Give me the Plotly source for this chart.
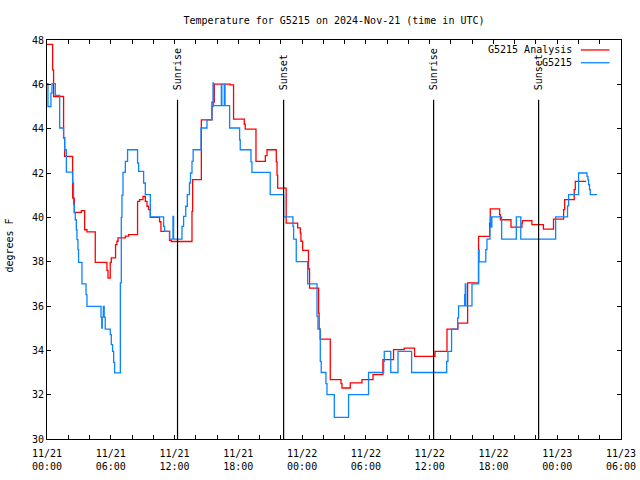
import pandas as pd
import plotly.graph_objects as go

# ---------------- data ----------------
base_time = "2024-11-21 00:00"

analysis_hours = [0.00, 0.53, 0.62, 1.56, 1.66, 2.41, 2.57, 3.23, 3.54, 3.76, 4.54, 5.64, 5.74, 5.95, 6.05,
                  6.45, 6.58, 6.68, 7.37, 7.68, 8.52, 8.71, 9.03, 9.25, 9.41, 9.56, 9.72, 10.59, 10.72, 11.53,
                  11.70, 13.64, 13.70, 14.52, 15.52, 15.74, 17.24, 17.55, 18.56, 18.65, 19.66, 20.54, 20.70,
                  21.57, 21.64, 21.70, 22.50, 23.58, 23.83, 23.89, 24.05, 24.60, 24.70, 25.55, 25.60, 25.70,
                  26.65, 27.66, 27.75, 28.53, 29.63, 30.67, 31.60, 32.60, 33.60, 34.58, 36.50, 37.63, 38.66,
                  39.57, 40.60, 41.64, 41.70, 42.58, 42.65, 43.65, 44.68, 44.72, 45.62, 46.70, 47.65, 48.60,
                  48.70, 49.60, 49.70, 50.73]
analysis_temps = [47.8, 46.65, 45.45, 43.6, 42.75, 40.87, 40.22, 40.3, 39.44, 39.34, 37.97, 37.61, 37.26, 37.97,
                  38.17, 38.77, 38.92, 39.07, 39.15, 39.22, 40.72, 40.8, 40.94, 40.72, 40.5, 40.35, 40.0, 39.8,
                  39.37, 38.96, 38.91, 40.27, 41.7, 44.4, 45.2, 46.01, 45.98, 44.43, 44.2, 43.98, 42.52, 42.78,
                  43.05, 42.5, 41.9, 41.32, 39.74, 39.52, 39.29, 38.92, 38.51, 37.67, 36.81, 35.68, 34.96, 34.51,
                  32.68, 32.5, 32.3, 32.53, 32.68, 32.9, 33.58, 34.03, 34.1, 33.73, 33.95, 34.96, 35.23, 37.04,
                  39.14, 39.74, 40.38, 40.12, 39.89, 39.56, 39.74, 39.85, 39.67, 39.47, 39.92, 40.35, 40.8,
                  41.25, 41.62, 41.62]

obs_hours = [0.00, 0.09, 0.37, 0.47, 0.78, 1.19, 1.56, 1.66, 1.82, 2.41, 2.50, 2.57, 2.66, 2.76, 2.82, 2.91,
             2.97, 3.29, 3.67, 3.76, 5.08, 5.15, 5.20, 5.30, 5.38, 5.48, 5.95, 6.05, 6.17, 6.27, 6.36, 6.90,
             6.99, 7.05, 7.15, 7.37, 7.58, 8.52, 8.62, 9.09, 9.25, 9.72, 10.97, 11.06, 11.53, 11.85, 11.91,
             12.70, 12.85, 13.05, 13.20, 13.40, 13.50, 13.64, 13.75, 14.49, 15.05, 15.52, 15.62, 15.67, 16.40,
             16.45, 16.68, 16.75, 17.18, 18.12, 18.18, 19.19, 19.28, 21.00, 22.26, 23.14, 23.20, 23.45, 24.52,
             25.40, 25.49, 25.71, 25.80, 26.24, 26.34, 27.03, 28.37, 30.25, 31.67, 31.73, 32.34, 33.02, 34.30,
             37.60, 37.72, 38.06, 38.63, 38.72, 39.29, 39.35, 39.40, 39.98, 40.60, 40.65, 41.28, 41.39, 41.67,
             41.72, 41.78, 41.85, 42.77, 44.15, 44.57, 47.85, 48.97, 49.07, 50.01, 50.80, 50.89, 50.95, 51.04,
             51.11, 51.74]
obs_temps = [46.03, 45.0, 45.6, 46.03, 45.5, 44.03, 43.58, 43.05, 42.04, 41.55, 40.57, 40.2, 39.89, 39.44,
             38.99, 38.54, 37.97, 37.0, 36.51, 35.98, 35.5, 35.0, 35.5, 35.98, 35.5, 34.96, 34.71, 34.26, 33.95,
             33.46, 32.98, 37.04, 40.0, 41.0, 42.03, 42.52, 43.05, 42.45, 42.07, 41.55, 41.02, 40.02, 39.59,
             39.37, 39.02, 40.04, 39.02, 39.59, 40.04, 40.5, 41.02, 41.55, 42.0, 42.52, 43.05, 44.03, 44.4,
             45.0, 46.06, 45.04, 46.0, 45.04, 46.0, 45.04, 44.03, 43.5, 43.05, 42.5, 42.03, 41.02, 40.02, 39.59,
             39.02, 38.0, 37.0, 35.53, 34.96, 33.5, 33.0, 32.5, 32.0, 30.98, 32.0, 33.0, 33.5, 33.95, 33.0,
             33.95, 33.0, 33.5, 33.95, 34.96, 35.46, 36.01, 36.51, 37.0, 36.01, 37.0, 38.54, 37.99, 38.54,
             39.02, 39.56, 40.02, 39.56, 40.02, 39.02, 40.02, 39.02, 40.02, 40.52, 41.02, 42.0, 41.85, 41.7,
             41.47, 41.25, 41.02, 41.02]

event_hours = [12.28, 22.26, 36.37, 46.25]
event_labels = ["Sunrise", "Sunset", "Sunrise", "Sunset"]

tick_hours = [0, 6, 12, 18, 24, 30, 36, 42, 48, 54]
tick_labels = ["11/21<br>00:00", "11/21<br>06:00", "11/21<br>12:00", "11/21<br>18:00",
               "11/22<br>00:00", "11/22<br>06:00", "11/22<br>12:00", "11/22<br>18:00",
               "11/23<br>00:00", "11/23<br>06:00"]
y_ticks = [30, 32, 34, 36, 38, 40, 42, 44, 46, 48]

series_names = ["G5215 Analysis", "G5215"]
series_colors = ["#ff0000", "#0a84ff"]

assert len(analysis_hours) == len(analysis_temps)
assert len(obs_hours) == len(obs_temps)

# ---------------- figure ----------------
t0 = pd.Timestamp(base_time)
def to_time(hours):
    return [t0 + pd.Timedelta(hours=h) for h in hours]

FONT = "DejaVu Sans Mono"
W, H = 640, 480
fig = go.Figure()
fig.add_trace(go.Scatter(x=to_time(analysis_hours), y=analysis_temps, mode="lines",
                         line=dict(color=series_colors[0], width=1.3, shape="hv"),
                         name=series_names[0]))
fig.add_trace(go.Scatter(x=to_time(obs_hours), y=obs_temps, mode="lines",
                         line=dict(color=series_colors[1], width=1.3, shape="hv"),
                         name=series_names[1]))

for h, lab in zip(event_hours, event_labels):
    tx = t0 + pd.Timedelta(hours=h)
    fig.add_shape(type="line", xref="x", yref="paper", x0=tx, x1=tx, y0=0, y1=0.85,
                  line=dict(color="black", width=1.2))
    fig.add_annotation(x=tx, xref="x", y=0.868, yref="paper", text=lab, textangle=-90,
                       showarrow=False, xanchor="center", yanchor="bottom",
                       font=dict(family=FONT, size=10, color="black"))

# legend drawn gnuplot style: text right-aligned, sample to its right
leg_y = [0.975, 0.943]
for name, col, yy in zip(series_names, series_colors, leg_y):
    fig.add_annotation(x=0.918, xref="paper", y=yy, yref="paper", text=name, showarrow=False,
                       xanchor="right", yanchor="middle",
                       font=dict(family=FONT, size=10, color="black"))
    fig.add_shape(type="line", xref="paper", yref="paper", x0=0.930, x1=0.980, y0=yy, y1=yy,
                  line=dict(color=col, width=1.3))

fig.add_annotation(x=-0.066, xref="paper", y=0.485, yref="paper", text="degrees F", textangle=-90,
                   showarrow=False, xanchor="center", yanchor="middle",
                   font=dict(family=FONT, size=10, color="black"))

fig.update_layout(
    width=W, height=H,
    margin=dict(l=47, r=19, t=40, b=41, autoexpand=False),
    paper_bgcolor="white", plot_bgcolor="white",
    showlegend=False,
    font=dict(family=FONT, size=10, color="black"),
    title=dict(text="Temperature for G5215 on 2024-Nov-21 (time in UTC)", x=0.5, xref="paper",
               y=1 - 20 / H, yref="container", xanchor="center", yanchor="middle",
               font=dict(family=FONT, size=10, color="black")),
    xaxis=dict(range=[t0, t0 + pd.Timedelta(hours=54)], tickmode="array",
               tickvals=to_time(tick_hours), ticktext=tick_labels, automargin=False,
               ticklabelstandoff=5,
               showline=True, linecolor="black", linewidth=1, mirror="ticks",
               ticks="inside", ticklen=4, tickcolor="black", showgrid=False, zeroline=False,
               minor=dict(tick0=t0, dtick=2 * 3600 * 1000, ticks="inside", ticklen=4,
                          tickcolor="black", showgrid=False),
               tickfont=dict(family=FONT, size=10, color="black")),
    yaxis=dict(range=[30, 48], tickmode="array", tickvals=y_ticks, ticktext=[str(v) for v in y_ticks],
               automargin=False,
               showline=True, linecolor="black", linewidth=1, mirror="ticks",
               ticks="inside", ticklen=4, tickcolor="black", showgrid=False, zeroline=False,
               tickfont=dict(family=FONT, size=10, color="black")),
)

# remove the browser's default 8px body margin so the 640x480 figure fills the window exactly
fig.write_html("out.html", config={"displayModeBar": False},
               post_script="document.body.style.margin='0';document.body.style.overflow='hidden';")
